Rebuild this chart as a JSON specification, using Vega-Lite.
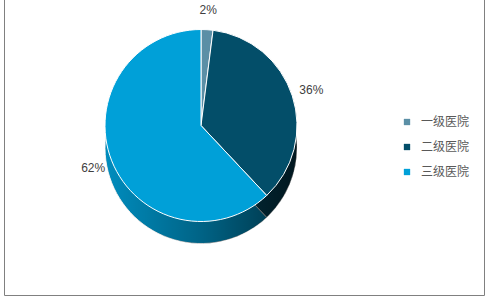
{
  "$schema": "https://vega.github.io/schema/vega-lite/v6.json",
  "width": 480,
  "height": 297,
  "autosize": {"type": "none"},
  "padding": {"left": 4, "top": -2, "right": 2, "bottom": 5},
  "config": {
    "view": {"stroke": "#808080", "strokeWidth": 1},
    "font": "Liberation Sans"
  },
  "data": {
    "values": [
      {"name": "一级医院", "value": 2},
      {"name": "二级医院", "value": 36},
      {"name": "三级医院", "value": 62}
    ]
  },
  "transform": [{"calculate": "datum.value + '%'", "as": "label"}],
  "layer": [
    {
      "mark": {"type": "rule", "opacity": 0},
      "encoding": {
        "y": {"datum": 0, "type": "quantitative", "axis": null}
      }
    },
    {
      "mark": {"type": "arc", "radius": 96, "xOffset": -43, "yOffset": 1, "stroke": "#ffffff", "strokeWidth": 1},
      "encoding": {
        "theta": {"field": "value", "type": "quantitative", "stack": true},
        "order": {"field": "value", "type": "quantitative"},
        "color": {
          "field": "name",
          "type": "nominal",
          "scale": {"domain": ["一级医院", "二级医院", "三级医院"], "range": ["#5b8fa6", "#034e69", "#00a0d8"]},
          "legend": {
            "title": null,
            "orient": "none",
            "legendX": 397,
            "legendY": 118,
            "symbolType": "square",
            "symbolSize": 40,
            "symbolStrokeWidth": 0,
            "labelFont": "Noto Sans CJK SC",
            "labelFontSize": 12,
            "labelColor": "#595959",
            "labelOffset": 8,
            "rowPadding": 13
          }
        }
      }
    },
    {
      "transform": [{"aggregate": [{"op": "sum", "field": "value", "as": "total"}]}],
      "mark": {
        "type": "arc",
        "radius": 96,
        "xOffset": -43,
        "yOffset": 1,
        "color": {
          "gradient": "linear",
          "x1": 0, "y1": 0, "x2": 1, "y2": 0,
          "stops": [
            {"offset": 0, "color": "rgba(0,0,0,0.12)"},
            {"offset": 0.5, "color": "rgba(0,0,0,0.38)"},
            {"offset": 1, "color": "rgba(0,0,0,0.7)"}
          ]
        }
      },
      "encoding": {
        "theta": {"field": "total", "type": "quantitative"}
      }
    },
    {
      "mark": {"type": "arc", "radius": 96, "xOffset": -43, "yOffset": -21, "stroke": "#ffffff", "strokeWidth": 1},
      "encoding": {
        "theta": {"field": "value", "type": "quantitative", "stack": true},
        "order": {"field": "value", "type": "quantitative"},
        "color": {
          "field": "name",
          "type": "nominal",
          "scale": {"domain": ["一级医院", "二级医院", "三级医院"], "range": ["#5b8fa6", "#034e69", "#00a0d8"]}
        }
      }
    },
    {
      "mark": {"type": "text", "radius": 116, "xOffset": -43, "yOffset": -21, "fontSize": 12, "color": "#404040"},
      "encoding": {
        "theta": {"field": "value", "type": "quantitative", "stack": true},
        "order": {"field": "value", "type": "quantitative"},
        "text": {"field": "label", "type": "nominal"}
      }
    }
  ]
}
